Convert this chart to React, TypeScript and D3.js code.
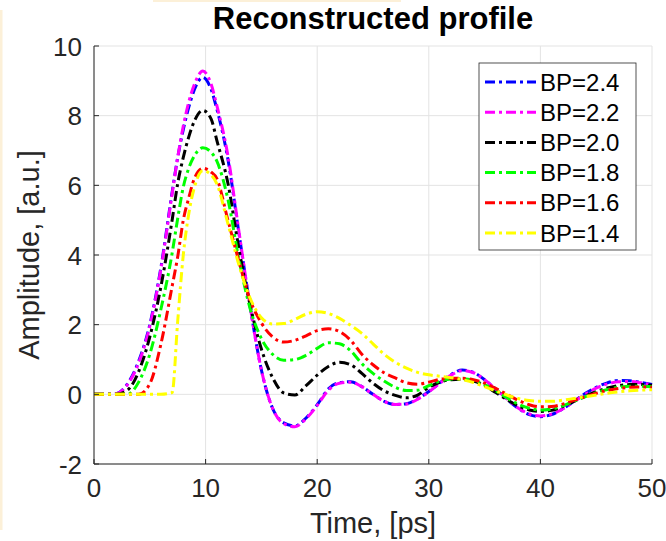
import React from "react";
import { scaleLinear, line, curveMonotoneX } from "d3";

// time axis, ps
const T = [
  0, 1, 2, 3, 4, 5, 6, 7, 7.5, 8, 8.5, 9, 9.75, 10.5, 11, 12, 13, 14, 15, 16,
  17, 18, 19, 20, 21, 22, 23, 24, 25, 26, 27, 28, 29, 30, 31, 32, 33, 34, 35,
  36, 37, 38, 39, 40, 41, 42, 43, 44, 45, 46, 47, 48, 49, 50,
];

const bp24 = [
  0, 0, 0.02, 0.3, 0.95, 2.0, 3.65, 5.8, 6.8, 7.6, 8.25, 8.75, 9.1, 8.75, 8.2,
  6.75, 4.6, 2.5, 0.7, -0.4, -0.82, -0.91, -0.68, -0.3, 0.16, 0.34, 0.36, 0.22,
  0.0, -0.2, -0.29, -0.27, -0.13, 0.08, 0.33, 0.57, 0.7, 0.63, 0.42, 0.15,
  -0.14, -0.4, -0.58, -0.64, -0.58, -0.42, -0.2, 0.02, 0.2, 0.33, 0.4, 0.39,
  0.34, 0.28,
];
const bp22 = [
  0, 0, 0.02, 0.28, 0.9, 1.95, 3.6, 5.75, 6.8, 7.7, 8.4, 8.9, 9.28, 8.9, 8.3,
  6.85, 4.65, 2.5, 0.7, -0.4, -0.84, -0.93, -0.7, -0.32, 0.12, 0.32, 0.35, 0.22,
  0.0, -0.2, -0.29, -0.28, -0.14, 0.07, 0.32, 0.55, 0.68, 0.62, 0.42, 0.15,
  -0.13, -0.39, -0.56, -0.62, -0.57, -0.42, -0.21, 0.0, 0.18, 0.3, 0.36, 0.37,
  0.33, 0.27,
];
const bp20 = [
  0, 0, 0, 0.12, 0.65, 1.65, 3.1, 5.0, 6.05, 6.8, 7.4, 7.85, 8.15, 7.9, 7.3,
  6.06, 4.15, 2.55, 1.3, 0.48, 0.04, -0.02, 0.25, 0.55, 0.8, 0.92, 0.85, 0.6,
  0.32, 0.1, -0.03, -0.1, -0.02, 0.2, 0.35, 0.42, 0.43, 0.38, 0.25, 0.05, -0.15,
  -0.33, -0.45, -0.49, -0.46, -0.35, -0.2, -0.05, 0.08, 0.18, 0.25, 0.28, 0.28,
  0.26,
];
const bp18 = [
  0, 0, 0, 0, 0.35, 1.15, 2.45, 4.05, 5.05, 5.95, 6.5, 6.85, 7.08, 6.95, 6.7,
  5.6, 3.85, 2.45, 1.6, 1.15, 0.98, 1.0, 1.12, 1.32, 1.48, 1.45, 1.25, 0.88, 0.6,
  0.38, 0.2, 0.11, 0.12, 0.25, 0.38, 0.44, 0.45, 0.4, 0.28, 0.1, -0.1, -0.28,
  -0.4, -0.45, -0.42, -0.33, -0.2, -0.07, 0.05, 0.14, 0.2, 0.23, 0.23, 0.22,
];
const bp16 = [
  0, 0, 0, 0, 0, 0.3, 1.45, 3.1, 3.95, 5.0, 5.65, 6.2, 6.49, 6.38, 6.2, 5.0,
  3.8, 2.7, 2.05, 1.65, 1.5, 1.55, 1.68, 1.83, 1.88, 1.8, 1.55, 1.15, 0.85, 0.62,
  0.47, 0.33, 0.29, 0.35, 0.43, 0.46, 0.46, 0.42, 0.32, 0.17, 0.0, -0.17, -0.3,
  -0.36, -0.35, -0.28, -0.17, -0.07, 0.03, 0.11, 0.17, 0.2, 0.21, 0.2,
];
const bp14 = [
  0, 0, 0, 0, 0, 0, 0, 0.05, 2.1, 4.0, 5.2, 5.95, 6.42, 6.3, 6.05, 4.9, 3.7,
  2.75, 2.2, 2.02, 2.03, 2.15, 2.3, 2.37, 2.32, 2.18, 1.98, 1.75, 1.45, 1.15,
  0.92, 0.75, 0.63, 0.56, 0.52, 0.48, 0.42, 0.34, 0.22, 0.1, -0.02, -0.12,
  -0.18, -0.2, -0.2, -0.17, -0.12, -0.07, -0.02, 0.03, 0.07, 0.1, 0.12, 0.13,
];

const seriesNames = ["BP=2.4", "BP=2.2", "BP=2.0", "BP=1.8", "BP=1.6", "BP=1.4"];
const seriesValues = [bp24, bp22, bp20, bp18, bp16, bp14];
const seriesColors = ["#0000ff", "#ff00ff", "#000000", "#00ff00", "#ff0000", "#ffff00"];

const xTicks = [0, 10, 20, 30, 40, 50];
const yTicks = [-2, 0, 2, 4, 6, 8, 10];

const width = 666;
const height = 541;
const margin = { top: 46, right: 14, bottom: 77, left: 94 };
const innerRight = width - margin.right;
const innerBottom = height - margin.bottom;

const xScale = scaleLinear().domain([0, 50]).range([margin.left, innerRight]);
const yScale = scaleLinear().domain([-2, 10]).range([innerBottom, margin.top]);

const path = line<number>()
  .x((_, i) => xScale(T[i]))
  .y((d) => yScale(d))
  .curve(curveMonotoneX);

const font = "'Liberation Sans', Arial, Helvetica, sans-serif";
const axisColor = "#262626";
const dash = "10 4 3 4";

export default function App() {
  const legend = { x: 479, y: 63, w: 157, h: 187, row: 30.2 };
  return (
    <svg
      width={width}
      height={height}
      viewBox={`0 0 ${width} ${height}`}
      style={{ position: "absolute", left: 0, top: 0, background: "#fff" }}
      fontFamily={font}
    >
      {/* cream strips at the edges of the original screenshot */}
      <rect x={153} y={0} width={248} height={2} fill="#fcf0d8" />
      <rect x={0} y={10} width={2.5} height={520} fill="#fcf0d8" />

      {/* grid */}
      <g stroke="#e3e3e3" strokeWidth={1}>
        {xTicks.map((t) => (
          <line key={"gx" + t} x1={xScale(t)} x2={xScale(t)} y1={margin.top} y2={innerBottom} />
        ))}
        {yTicks.map((t) => (
          <line key={"gy" + t} x1={margin.left} x2={innerRight} y1={yScale(t)} y2={yScale(t)} />
        ))}
      </g>

      {/* series */}
      <g fill="none" strokeWidth={3} strokeDasharray={dash}>
        {seriesValues.map((vals, i) => (
          <path key={seriesNames[i]} d={path(vals) ?? ""} stroke={seriesColors[i]} />
        ))}
      </g>

      {/* axes */}
      <g stroke={axisColor} strokeWidth={1}>
        <line x1={margin.left} x2={margin.left} y1={margin.top} y2={innerBottom} />
        <line x1={margin.left} x2={innerRight} y1={innerBottom} y2={innerBottom} />
        {xTicks.map((t) => (
          <line key={"tx" + t} x1={xScale(t)} x2={xScale(t)} y1={innerBottom} y2={innerBottom - 5} />
        ))}
        {yTicks.map((t) => (
          <line key={"ty" + t} x1={margin.left} x2={margin.left + 5} y1={yScale(t)} y2={yScale(t)} />
        ))}
      </g>

      <g fill={axisColor} fontSize={26}>
        {xTicks.map((t) => (
          <text key={"lx" + t} x={xScale(t)} y={innerBottom + 33} textAnchor="middle">
            {t}
          </text>
        ))}
        {yTicks.map((t) => (
          <text key={"ly" + t} x={margin.left - 12} y={yScale(t) + 9.5} textAnchor="end">
            {t}
          </text>
        ))}
      </g>

      <text x={(margin.left + innerRight) / 2} y={533} textAnchor="middle" fontSize={29} fill={axisColor}>
        Time, [ps]
      </text>
      <text
        transform={`translate(39, ${(margin.top + innerBottom) / 2}) rotate(-90)`}
        textAnchor="middle"
        fontSize={29}
        fill={axisColor}
      >
        Amplitude, [a.u.]
      </text>
      <text x={(margin.left + innerRight) / 2} y={29} textAnchor="middle" fontSize={31} fontWeight="bold" fill="#000">
        Reconstructed profile
      </text>

      {/* legend */}
      <g>
        <rect x={legend.x} y={legend.y} width={legend.w} height={legend.h} fill="#fff" stroke={axisColor} strokeWidth={0.8} />
        {seriesNames.map((name, i) => {
          const cy = legend.y + 19 + i * legend.row;
          return (
            <g key={name}>
              <line
                x1={legend.x + 6}
                x2={legend.x + 57}
                y1={cy}
                y2={cy}
                stroke={seriesColors[i]}
                strokeWidth={3}
                strokeDasharray={dash}
              />
              <text x={legend.x + 61} y={cy + 8.5} fontSize={24} fill="#000">
                {name}
              </text>
            </g>
          );
        })}
      </g>
    </svg>
  );
}
